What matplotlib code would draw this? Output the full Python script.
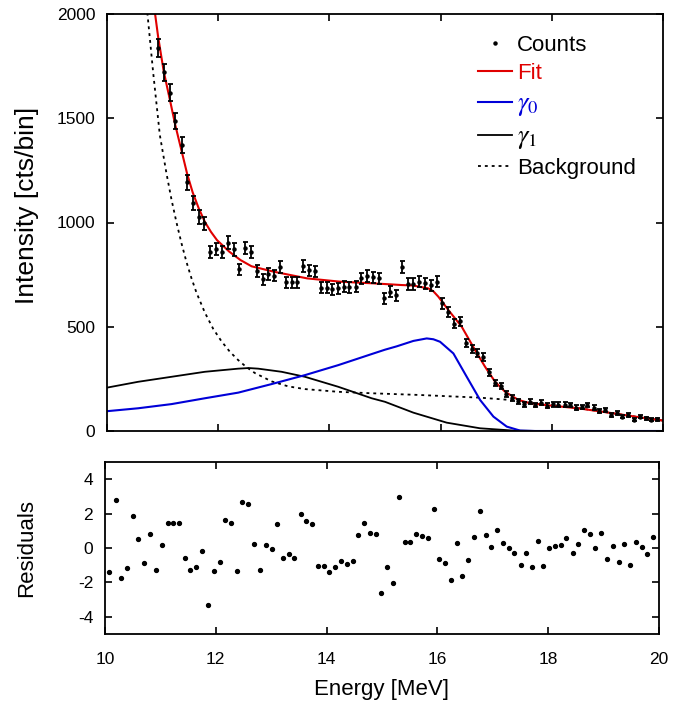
import numpy as np
import matplotlib
matplotlib.use('Agg')
import matplotlib.pyplot as plt
from matplotlib.lines import Line2D

plt.rcParams['font.family'] = ['Liberation Sans', 'DejaVu Sans']
plt.rcParams['mathtext.fontset'] = 'stix'
plt.rcParams['axes.unicode_minus'] = False

# bin centres [MeV]
energy = [10.08, 10.19, 10.29, 10.40, 10.50, 10.60, 10.71, 10.81, 10.92, 11.02,
          11.13, 11.23, 11.34, 11.44, 11.54, 11.65, 11.75, 11.86, 11.96, 12.07,
          12.17, 12.28, 12.38, 12.48, 12.59, 12.69, 12.80, 12.90, 13.01, 13.11,
          13.22, 13.32, 13.42, 13.53, 13.63, 13.74, 13.84, 13.95, 14.05, 14.15,
          14.26, 14.36, 14.47, 14.57, 14.68, 14.78, 14.89, 14.99, 15.09, 15.20,
          15.30, 15.41, 15.51, 15.62, 15.72, 15.83, 15.93, 16.03, 16.14, 16.24,
          16.35, 16.45, 16.56, 16.66, 16.76, 16.87, 16.97, 17.08, 17.18, 17.29,
          17.39, 17.50, 17.60, 17.70, 17.81, 17.91, 18.02, 18.12, 18.23, 18.33,
          18.44, 18.54, 18.64, 18.75, 18.85, 18.96, 19.06, 19.17, 19.27, 19.37,
          19.48, 19.58, 19.69, 19.79, 19.90]

# counts (first 8 bins are above 2000 and off the plot)
first_visible = 8
counts = [1835, 1720, 1622, 1486, 1371, 1192, 1094, 1027, 997, 857,
          874, 857, 903, 871, 775, 879, 857, 768, 727, 753,
          745, 785, 713, 713, 713, 790, 770, 765, 688, 688,
          680, 685, 693, 690, 692, 732, 743, 737, 732, 636,
          668, 650, 788, 705, 705, 716, 708, 700, 716, 612,
          572, 515, 526, 423, 392, 372, 353, 281, 229, 216,
          177, 158, 143, 128, 141, 125, 136, 121, 128, 126,
          126, 125, 112, 116, 125, 112, 97, 101, 77, 85,
          69, 77, 53, 69, 61, 53, 56]

residuals = [-1.39, 2.80, -1.74, -1.18, 1.86, 0.52, -0.85, 0.81, -1.28, 0.17,
             1.47, 1.47, 1.43, -0.58, -1.26, -1.08, -0.17, -3.34, -1.33, -0.81,
             1.60, 1.47, -1.31, 2.69, 2.55, 0.25, -1.26, 0.15, -0.08, 1.39,
             -0.58, -0.37, -0.58, 1.97, 1.55, 1.41, -1.04, -1.04, -1.37, -1.10,
             -0.75, -0.91, -0.77, 0.73, 1.47, 0.87, 0.81, -2.61, -1.12, -2.05,
             2.96, 0.33, 0.37, 0.81, 0.70, 0.58, 2.24, -0.64, -0.89, -1.84,
             0.29, -1.64, -0.70, 0.62, 2.13, 0.77, 0.06, 1.04, 0.31, 0.00,
             -0.31, -0.97, -0.27, -1.08, 0.39, -1.06, 0.02, 0.10, 0.17, 0.56,
             -0.27, 0.25, 1.06, 0.81, -0.02, 0.87, -0.62, 0.10, -0.81, 0.21,
             -1.00, 0.33, 0.06, -0.33, 0.64]

# fit components
fit_e = [10.86, 10.92, 11.02, 11.13, 11.23, 11.34, 11.44, 11.54, 11.65, 11.76,
         11.87, 11.98, 12.20, 12.40, 12.60, 13.00, 13.60, 14.20, 14.80, 15.30,
         15.50, 15.78, 15.87, 15.96, 16.05, 16.14, 16.38, 16.62, 16.80, 16.98,
         17.16, 17.40, 17.61, 17.91, 18.50, 19.10, 19.70, 20.00]
fit_v = [2010, 1890, 1725, 1590, 1465, 1345, 1235, 1145, 1068, 1003,
         955, 915, 860, 820, 790, 764, 732, 716, 708, 700,
         698, 684, 670, 644, 612, 580, 500, 388, 308, 236,
         188, 149, 133, 124, 108, 85, 61, 50]

g0_e = [10.0, 10.08, 10.56, 11.16, 11.76, 12.36, 12.96, 13.56, 14.16, 14.76,
        15.00, 15.21, 15.51, 15.75, 15.87, 15.99, 16.23, 16.47, 16.71, 16.95,
        17.19, 17.43, 17.70, 20.0]
g0_v = [95, 97, 109, 129, 157, 184, 225, 268, 316, 369,
        390, 406, 432, 444, 440, 428, 372, 260, 149, 69,
        21, 2, 0, 0]

g1_e = [10.0, 10.08, 10.56, 11.16, 11.76, 12.36, 12.55, 12.72, 13.14, 13.56,
        14.16, 14.76, 15.00, 15.51, 16.11, 16.71, 17.31, 17.80, 20.0]
g1_v = [208, 212, 236, 260, 284, 299, 302, 299, 284, 260,
        212, 157, 140, 88, 40, 13, 2, 0, 0]

bg_e = [10.70, 10.73, 10.83, 10.95, 11.07, 11.16, 11.25, 11.34, 11.43, 11.52,
        11.61, 11.76, 11.91, 12.06, 12.21, 12.36, 12.51, 12.66, 12.96, 13.26,
        13.56, 14.16, 14.76, 15.60, 16.70, 17.20, 17.60, 17.90, 18.50, 19.10,
        19.70, 20.00]
bg_v = [2080, 1994, 1720, 1420, 1235, 1110, 1000, 900, 810, 732,
        663, 568, 490, 430, 380, 340, 306, 278, 238, 214,
        201, 188, 181, 173, 160, 150, 135, 125, 109, 85,
        61, 50]

RED = '#e00000'
BLUE = '#0000d8'

fig = plt.figure(figsize=(6.91, 7.04), dpi=100)
ax1 = fig.add_axes([107/691, 1 - 431/704, 556/691, 417/704])
ax2 = fig.add_axes([105/691, 1 - 634/704, 554/691, 172/704])

# top panel
e_vis = energy[first_visible:]
counts_arr = np.array(counts, dtype=float)
ax1.plot(bg_e, bg_v, color='black', lw=1.3, ls=(0, (1.6, 2.2)), zorder=1)
ax1.plot(g1_e, g1_v, color='black', lw=1.3, zorder=1)
ax1.plot(g0_e, g0_v, color=BLUE, lw=1.5, zorder=1)
ax1.plot(fit_e, fit_v, color=RED, lw=1.5, zorder=2)
ax1.errorbar(e_vis, counts_arr, yerr=np.sqrt(counts_arr), fmt='o', ms=2.2,
             color='black', ecolor='black', elinewidth=1.3, capsize=1.8,
             capthick=1.3, zorder=3)

ax1.set_xlim(10, 20)
ax1.set_ylim(0, 2000)
ax1.set_yticks([0, 500, 1000, 1500, 2000])
ax1.set_xticks([10, 12, 14, 16, 18, 20])
ax1.tick_params(labelbottom=False)
ax1.set_ylabel('Intensity [cts/bin]', fontsize=19)
ax1.yaxis.set_label_coords(-0.123, 0.542)

handles = [
    Line2D([], [], ls='none', marker='o', ms=2.2, color='black'),
    Line2D([], [], color=RED, lw=1.5),
    Line2D([], [], color=BLUE, lw=1.5),
    Line2D([], [], color='black', lw=1.3),
    Line2D([], [], color='black', lw=1.3, ls=(0, (1.6, 2.2))),
]
labels = ['Counts', 'Fit', r'$\gamma_0$', r'$\gamma_1$', 'Background']
leg = ax1.legend(handles, labels, loc='upper left', bbox_to_anchor=(0.667, 0.949),
                 frameon=False, fontsize=16, handlelength=1.55, handletextpad=0.22,
                 labelspacing=0.3, borderpad=0, borderaxespad=0)
for txt, c in zip(leg.get_texts(), ['black', RED, BLUE, 'black', 'black']):
    txt.set_color(c)
leg.get_texts()[2].set_fontsize(19)
leg.get_texts()[3].set_fontsize(19)

# residual panel
ax2.plot(energy, residuals, 'o', ms=2.8, color='black')
ax2.set_xlim(10, 20)
ax2.set_ylim(-5, 5)
ax2.set_xticks([10, 12, 14, 16, 18, 20])
ax2.set_yticks([-4, -2, 0, 2, 4])
ax2.set_xlabel('Energy [MeV]', fontsize=16)
ax2.xaxis.set_label_coords(0.5, -0.262)
ax2.set_ylabel('Residuals', fontsize=16)
ax2.yaxis.set_label_coords(-0.123, 0.5)

for ax in (ax1, ax2):
    ax.tick_params(direction='in', top=True, right=True, length=5, width=1.2,
                   labelsize=12.5)
    ax.tick_params(axis='y', pad=8.5)
    ax.tick_params(axis='x', pad=13)
    for s in ax.spines.values():
        s.set_linewidth(1.3)

fig.savefig('out.png', dpi=100)
